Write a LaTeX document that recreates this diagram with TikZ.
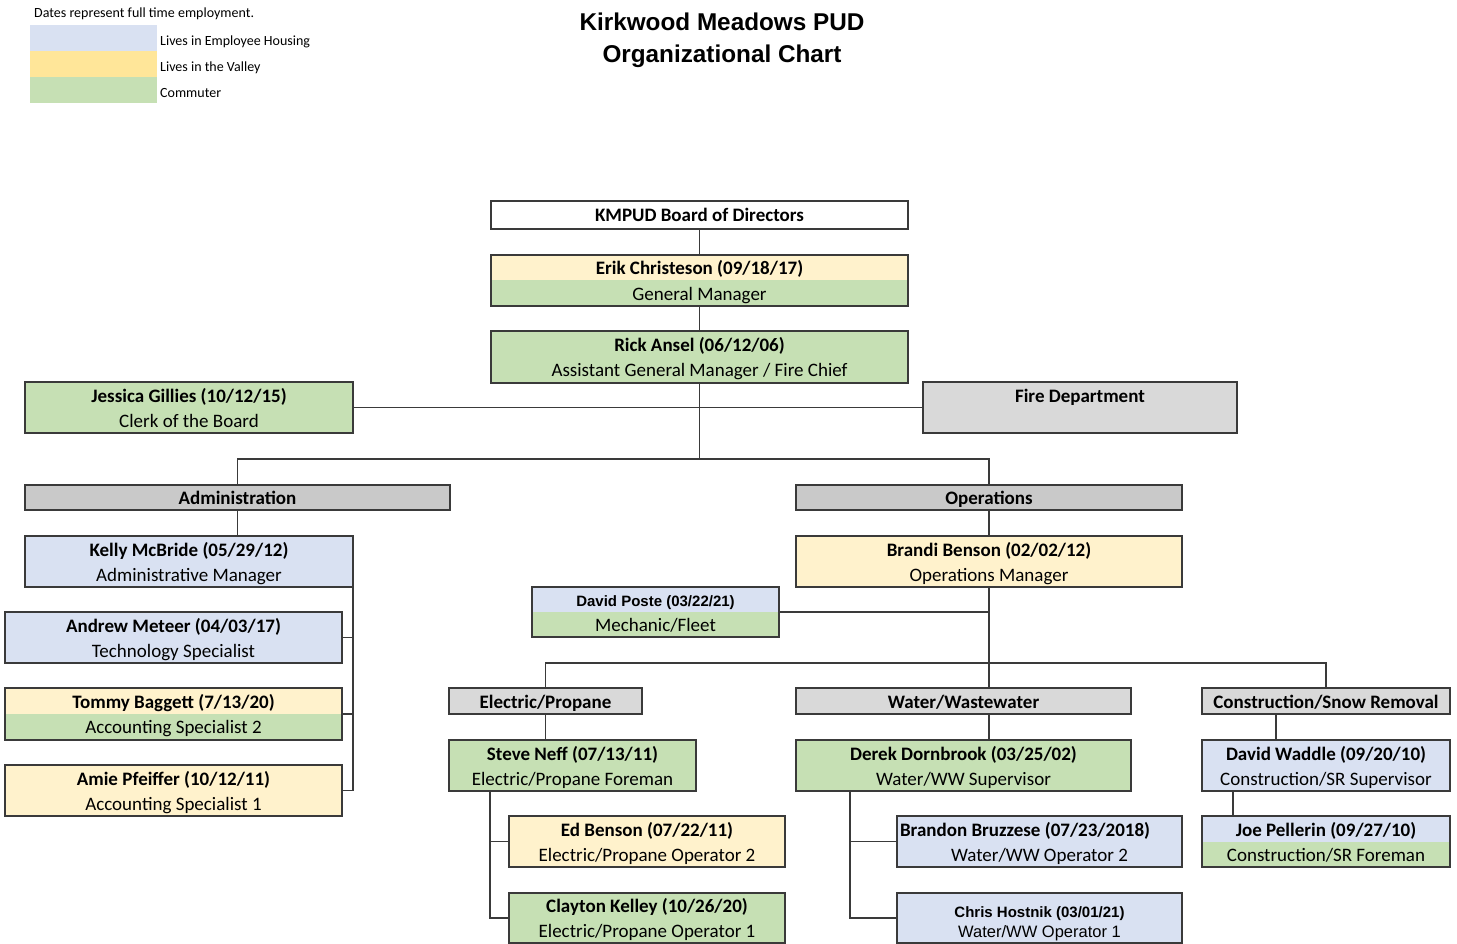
\documentclass[tikz,border=0pt]{standalone}
\usepackage{fontspec}
\setmainfont{Carlito}
\newfontfamily\arialf{Liberation Sans}
\usetikzlibrary{calc}
\definecolor{cblue}{HTML}{D9E1F2}
\definecolor{cyel}{HTML}{FFF2CC}
\definecolor{cyelleg}{HTML}{FFE699}
\definecolor{cgreen}{HTML}{C6E0B4}
\definecolor{cgray}{HTML}{D9D9D9}
\definecolor{cgrayd}{HTML}{C9C9C9}
\definecolor{bordc}{HTML}{3A3A3A}
\tikzset{
  orgnode/.style={draw=bordc, line width=1.2pt, inner sep=0pt, outer sep=0pt, align=center,
    font=\fontsize{19}{25}\selectfont},
  conn/.style={draw=bordc, line width=1.1pt},
  legbox/.style={inner sep=0pt, outer sep=0pt, minimum width=127pt, minimum height=26pt},
  legtext/.style={anchor=west, inner sep=0pt, font=\fontsize{14}{16}\selectfont},
}
\newcommand\ostrut{\rule[-5.5pt]{0pt}{25pt}}
\newcommand\tl[2]{\textbf{#1}\ostrut\\#2\ostrut}
\newcommand\orgbox[8]{%
  \node[orgnode, fill=#6, minimum width={(#4-#2)*1pt}, minimum height={(#5-#3)*1pt},
    path picture={\fill[#7] (path picture bounding box.west) rectangle (path picture bounding box.south east);}]
    (#1) at ({(#2+#4)/2},{(#3+#5)/2}) {#8};}
\begin{document}
\begin{tikzpicture}[x=1pt,y=-1pt]
\useasboundingbox (0,0) rectangle (1457,944);
% legend
\node[legtext] (legnote) at (34,14) {Dates represent full time employment.};
\node[legbox, fill=cblue] (lb1) at (93.5,38) {};
\node[legbox, fill=cyelleg] (lb2) at (93.5,64) {};
\node[legbox, fill=cgreen] (lb3) at (93.5,90) {};
\node[legtext] (lt1) at (160,42) {Lives in Employee Housing};
\node[legtext] (lt2) at (160,68) {Lives in the Valley};
\node[legtext] (lt3) at (160,93) {Commuter};
% title
\node[font=\arialf\bfseries\fontsize{24.3}{32}\selectfont, align=center] (title) at (722,40) {Kirkwood Meadows PUD\\Organizational Chart};
% boxes
\orgbox{board}{491}{201}{908}{229}{white}{white}{\textbf{KMPUD Board of Directors}\ostrut}
\orgbox{erik}{491}{255}{908}{306}{cyel}{cgreen}{\tl{Erik Christeson (09/18/17)}{General Manager}}
\orgbox{rick}{491}{331}{908}{383}{cgreen}{cgreen}{\tl{Rick Ansel (06/12/06)}{Assistant General Manager / Fire Chief}}
\orgbox{jessica}{25}{382}{353}{433}{cgreen}{cgreen}{\tl{Jessica Gillies (10/12/15)}{Clerk of the Board}}
\orgbox{fire}{923}{382}{1237}{433}{cgray}{cgray}{\tl{Fire Department}{}}
\orgbox{admin}{25}{485}{450}{510}{cgrayd}{cgrayd}{\textbf{Administration}\ostrut}
\orgbox{ops}{796}{485}{1182}{510}{cgrayd}{cgrayd}{\textbf{Operations}\ostrut}
\orgbox{kelly}{25}{536}{353}{587}{cblue}{cblue}{\tl{Kelly McBride (05/29/12)}{Administrative Manager}}
\orgbox{andrew}{5}{612}{342}{663}{cblue}{cblue}{\tl{Andrew Meteer (04/03/17)}{Technology Specialist}}
\orgbox{tommy}{5}{688}{342}{740}{cyel}{cgreen}{\tl{Tommy Baggett (7/13/20)}{Accounting Specialist 2}}
\orgbox{amie}{5}{765}{342}{816}{cyel}{cyel}{\tl{Amie Pfeiffer (10/12/11)}{Accounting Specialist 1}}
\orgbox{brandi}{796}{536}{1182}{587}{cyel}{cyel}{\tl{Brandi Benson (02/02/12)}{Operations Manager}}
\orgbox{poste}{532}{587}{779}{637}{cblue}{cgreen}{{\arialf\bfseries\fontsize{15}{25}\selectfont David Poste (03/22/21)}\ostrut\\Mechanic/Fleet\ostrut}
\orgbox{ep}{449}{688}{642}{714}{cgray}{cgray}{\textbf{Electric/Propane}\ostrut}
\orgbox{ww}{796}{688}{1131}{714}{cgray}{cgray}{\textbf{Water/Wastewater}\ostrut}
\orgbox{csr}{1202}{688}{1450}{714}{cgray}{cgray}{\textbf{Construction/Snow Removal}\ostrut}
\orgbox{steve}{449}{740}{696}{791}{cgreen}{cgreen}{\tl{Steve Neff (07/13/11)}{Electric/Propane Foreman}}
\orgbox{ed}{509}{816}{785}{867}{cyel}{cyel}{\tl{Ed Benson (07/22/11)}{Electric/Propane Operator 2}}
\orgbox{clayton}{509}{893}{785}{943}{cgreen}{cgreen}{\tl{Clayton Kelley (10/26/20)}{Electric/Propane Operator 1}}
\orgbox{derek}{796}{740}{1131}{791}{cgreen}{cgreen}{\tl{Derek Dornbrook (03/25/02)}{Water/WW Supervisor}}
\orgbox{brandon}{897}{816}{1182}{867}{cblue}{cblue}{\makebox[279pt][l]{\textbf{Brandon Bruzzese (07/23/2018)}}\ostrut\\Water/WW Operator 2\ostrut}
\orgbox{chris}{897}{893}{1182}{943}{cblue}{cblue}{\rule[-24pt]{0pt}{48pt}\makebox[0pt]{\raisebox{0.5pt}[0pt][0pt]{\arialf\bfseries\fontsize{15}{20}\selectfont Chris Hostnik (03/01/21)}}\makebox[0pt]{\raisebox{-19.5pt}[0pt][0pt]{\arialf\fontsize{16.5}{20}\selectfont Water/WW Operator 1}}}
\orgbox{waddle}{1202}{740}{1450}{791}{cblue}{cblue}{\tl{David Waddle (09/20/10)}{Construction/SR Supervisor}}
\orgbox{joe}{1202}{816}{1450}{867}{cblue}{cgreen}{\tl{Joe Pellerin (09/27/10)}{Construction/SR Foreman}}
% connectors
\draw[conn] (board.south) -- (erik.north);
\draw[conn] (erik.south) -- (rick.north);
\draw[conn] (jessica.east) -- (fire.west);
\coordinate (bus1) at (698,459);
\draw[conn] (rick.south) -- (rick.south |- bus1);
\draw[conn] (admin.north) |- (bus1) -| (ops.north);
\draw[conn] (admin.south) -- (admin.south |- kelly.north);
\draw[conn] (kelly.south east) |- (amie.east);
\draw[conn] (andrew.east) -- (kelly.south east |- andrew.east);
\draw[conn] (tommy.east) -- (kelly.south east |- tommy.east);
\draw[conn] (ops.south) -- (brandi.north);
\coordinate (bus2) at (987,663);
\draw[conn] (brandi.south) -- (brandi.south |- bus2);
\draw[conn] (poste.east) -- (brandi.south |- poste.east);
\draw[conn] (ep.north) |- (bus2) -| (csr.north);
\draw[conn] (brandi.south |- bus2) -- (brandi.south |- ww.north);
\draw[conn] (brandi.south |- ww.south) -- (brandi.south |- derek.north);
\draw[conn] (ep.south) -- (ep.south |- steve.north);
\coordinate (st) at ($(steve.south west)+(41,0)$);
\draw[conn] (st) |- (clayton.west);
\draw[conn] (st |- ed.west) -- (ed.west);
\coordinate (dt) at ($(derek.south west)+(54,0)$);
\draw[conn] (dt) |- (chris.west);
\draw[conn] (dt |- brandon.west) -- (brandon.west);
\coordinate (cw) at ($(csr.south west)+(74,0)$);
\draw[conn] (cw) -- (cw |- waddle.north);
\coordinate (wj) at ($(waddle.south west)+(31,0)$);
\draw[conn] (wj) -- (wj |- joe.north);
\end{tikzpicture}
\end{document}
